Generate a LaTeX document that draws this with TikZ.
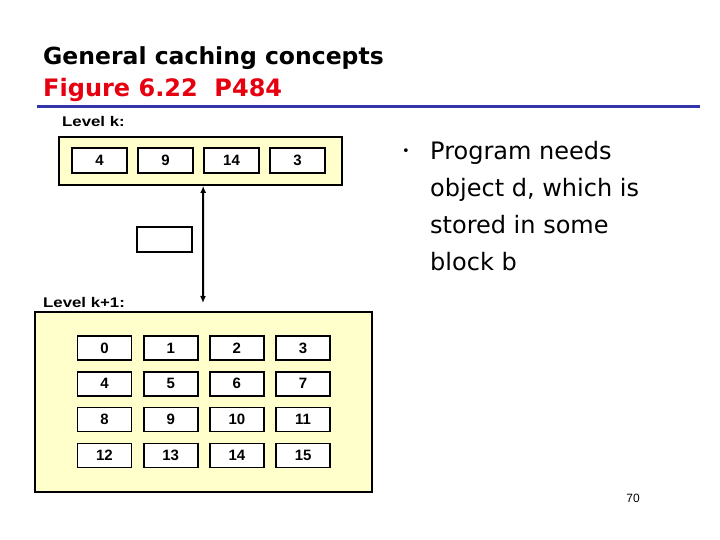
\documentclass[tikz,border=0pt]{standalone}
\usepackage{fontspec}
\setmainfont{Liberation Sans}
\newfontfamily\slidefont{DejaVu Sans}
\newfontfamily\armfont{Liberation Sans}
\newfontfamily\lblfont[FakeStretch=1.2]{Liberation Sans}
\usetikzlibrary{arrows.meta}
\definecolor{cacheyellow}{RGB}{255,255,204}
\definecolor{rulecol}{RGB}{51,51,170}
\definecolor{figred}{RGB}{230,0,16}
\newcommand{\cellfont}{\armfont\bfseries\fontsize{15}{15}\selectfont}
\begin{document}
\begin{tikzpicture}[x=1pt, y=-1pt,
		cell/.style={draw, line width=1.6pt, fill=white, minimum width=55pt, minimum height=25pt, inner sep=0pt, font=\cellfont},
		levelbox/.style={draw, line width=1.8pt, fill=cacheyellow, inner sep=0pt},
		levellbl/.style={anchor=base west, inner sep=0pt, font=\lblfont\bfseries\fontsize{14}{14}\selectfont}]
		\fill[white] (0,0) rectangle (720,540);
		\useasboundingbox (0,0) rectangle (720,540);
		
		% Title
		\node[anchor=base west, inner sep=0pt, font=\slidefont\bfseries\fontsize{23.5}{24}\selectfont] (title) at (43,65) {General caching concepts};
		\node[anchor=base west, inner sep=0pt, text=figred, font=\slidefont\bfseries\fontsize{24}{24}\selectfont] (fig) at (43,97) {Figure 6.22\ \ P484};
		\draw[rulecol, line width=3pt] (37,107) -- (700,107);
		
		% Level k
		\node[levellbl] (lblk) at (62,127) {Level k:};
		\node[levelbox, minimum width=283pt, minimum height=48pt] (levk) at (200.5,161) {};
		\foreach \v [count=\i from 0] in {4,9,14,3}
			\node[cell] (k\i) at ({99.5+66*\i},160.5) {\v};
		
		% block in transit
		\node[cell] (blk) at (164.5,239.5) {};
		\coordinate (arrbot) at (203,303);
		\draw[{Latex[length=7pt,width=6pt]}-{Latex[length=7pt,width=6pt]}, line width=2pt] (k2.west |- levk.south) -- (arrbot);
		
		% Level k+1
		\node[levellbl] (lblk1) at (43,307) {Level k+1:};
		\node[levelbox, minimum width=337pt, minimum height=180pt] (levk1) at (203.5,402) {};
		\foreach \r in {0,...,3}
			\foreach \c in {0,...,3} {
				\pgfmathtruncatemacro{\n}{4*\r+\c}
				\node[cell, minimum width=54pt, minimum height=24pt] (m\n) at ({104.5+66.2*\c},{348+35.8*\r}) {\n};
			}
		
		% Bullet text
		\node[inner sep=0pt, font=\slidefont\fontsize{13}{13}\selectfont] (bul) at (406,152) {•};
		\node[anchor=north west, align=left, inner sep=0pt, font=\slidefont\fontsize{24}{37}\selectfont] (need) at (430,141) {Program needs\\object d, which is\\stored in some\\block b};
		
		\node[inner sep=0pt, font=\armfont\fontsize{12}{12}\selectfont] (pnum) at (633,498) {70};
	\end{tikzpicture}
\end{document}
